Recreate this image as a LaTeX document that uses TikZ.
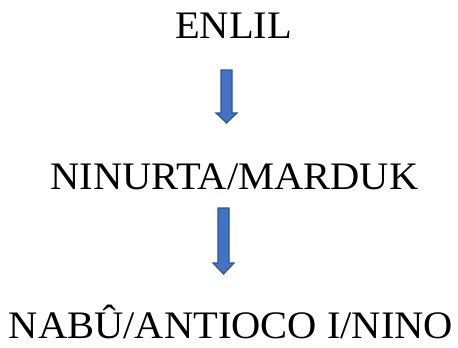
\documentclass[tikz,border=0pt]{standalone}
\usepackage{fontspec}
\setmainfont{Liberation Serif}[FakeStretch=1.04]
\definecolor{arrfill}{HTML}{4472C4}
\definecolor{arrdraw}{HTML}{2F5597}
\tikzset{
  lbl/.style={anchor=base, inner sep=0pt, font=\fontsize{39.1}{42}\selectfont},
  blockarrow/.style={fill=arrfill, draw=arrdraw, line width=1.2bp, line join=miter}
}
\begin{document}
\begin{tikzpicture}[x=1bp,y=-1bp]
\useasboundingbox (0,0) rectangle (458,347);
\node[lbl] (enlil) at (233.5,38) {ENLIL};
\node[lbl] (ninurta) at (234.5,189) {NINURTA/MARDUK};
\node[lbl] (nabu) at (231,338) {NABÛ/ANTIOCO I/NINO};
% arrow 1
\draw[blockarrow] (221,70) -- (232,70) -- (232,113) -- (237,113) -- (226.5,123) -- (216,113) -- (221,113) -- cycle;
% arrow 2
\draw[blockarrow] (218,208) -- (229,208) -- (229,263) -- (234,263) -- (223.5,274) -- (213,263) -- (218,263) -- cycle;
\end{tikzpicture}
\end{document}
